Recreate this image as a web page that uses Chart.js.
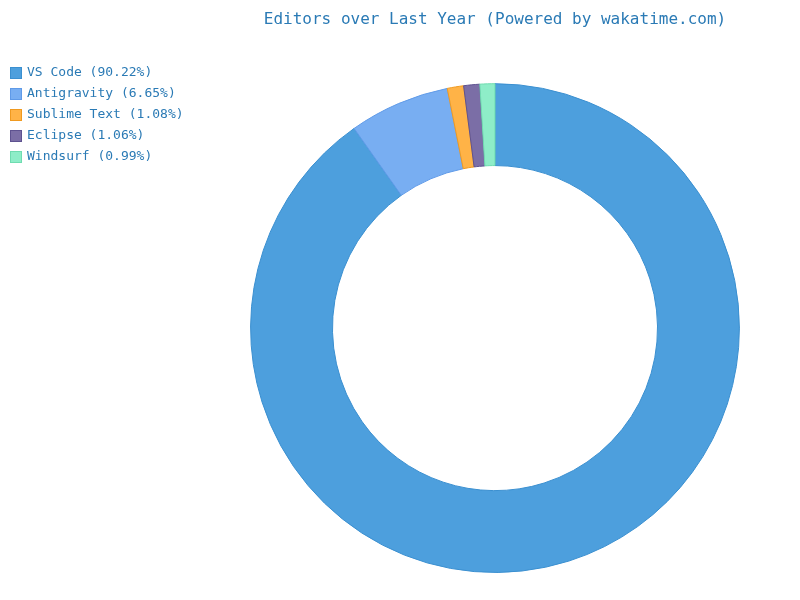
<!DOCTYPE html>
<html><head><meta charset="utf-8">
<script src="https://cdn.jsdelivr.net/npm/chart.js@4/dist/chart.umd.min.js"></script>
<style>html,body{margin:0;padding:0;background:#fff}#w{width:800px;height:600px}</style>
</head><body><div id="w"><canvas id="c"></canvas></div>
<script>
const categories = ["VS Code","Antigravity","Sublime Text","Eclipse","Windsurf"];
const values = [90.22,6.65,1.08,1.06,0.99];
const fills = ["#4d9fdd","#78aef2","#ffb347","#7b6ea6","#8eedc8"];
const borders = ["#3a8fd0","#5f9ae8","#f09a20","#5e5290","#6fdcb0"];
const labels = categories.map((c,i)=>c+' ('+values[i].toFixed(2)+'%)');
const legendPlugin = {
  id:'sideLegend',
  afterDraw(chart){
    const ctx = chart.ctx;
    ctx.save();
    ctx.font = '13px "DejaVu Sans Mono"';
    ctx.textBaseline = 'middle';
    labels.forEach((t,i)=>{
      const y = 67 + i*21;
      ctx.fillStyle = fills[i]; ctx.fillRect(10,y,12,12);
      ctx.strokeStyle = borders[i]; ctx.lineWidth = 1; ctx.strokeRect(10.5,y+0.5,11,11);
      ctx.fillStyle = '#2a7ab5'; ctx.fillText(t,27,y+6);
    });
    ctx.restore();
  }
};
new Chart(document.getElementById('c'),{
  type:'doughnut',
  data:{labels:labels,
    datasets:[{data:values,backgroundColor:fills,borderColor:borders,borderWidth:1}]},
  options:{responsive:true,maintainAspectRatio:false,animation:false,cutout:'66.5%',
    layout:{padding:{top:0,bottom:27,left:190,right:0}},
    plugins:{
      title:{display:true,text:'Editors over Last Year (Powered by wakatime.com)',color:'#2a7ab5',
        font:{family:'DejaVu Sans Mono',size:16,weight:'normal'},padding:{top:10,bottom:54}},
      legend:{display:false},
      tooltip:{enabled:false}
    }},
  plugins:[legendPlugin]
});
</script></body></html>
